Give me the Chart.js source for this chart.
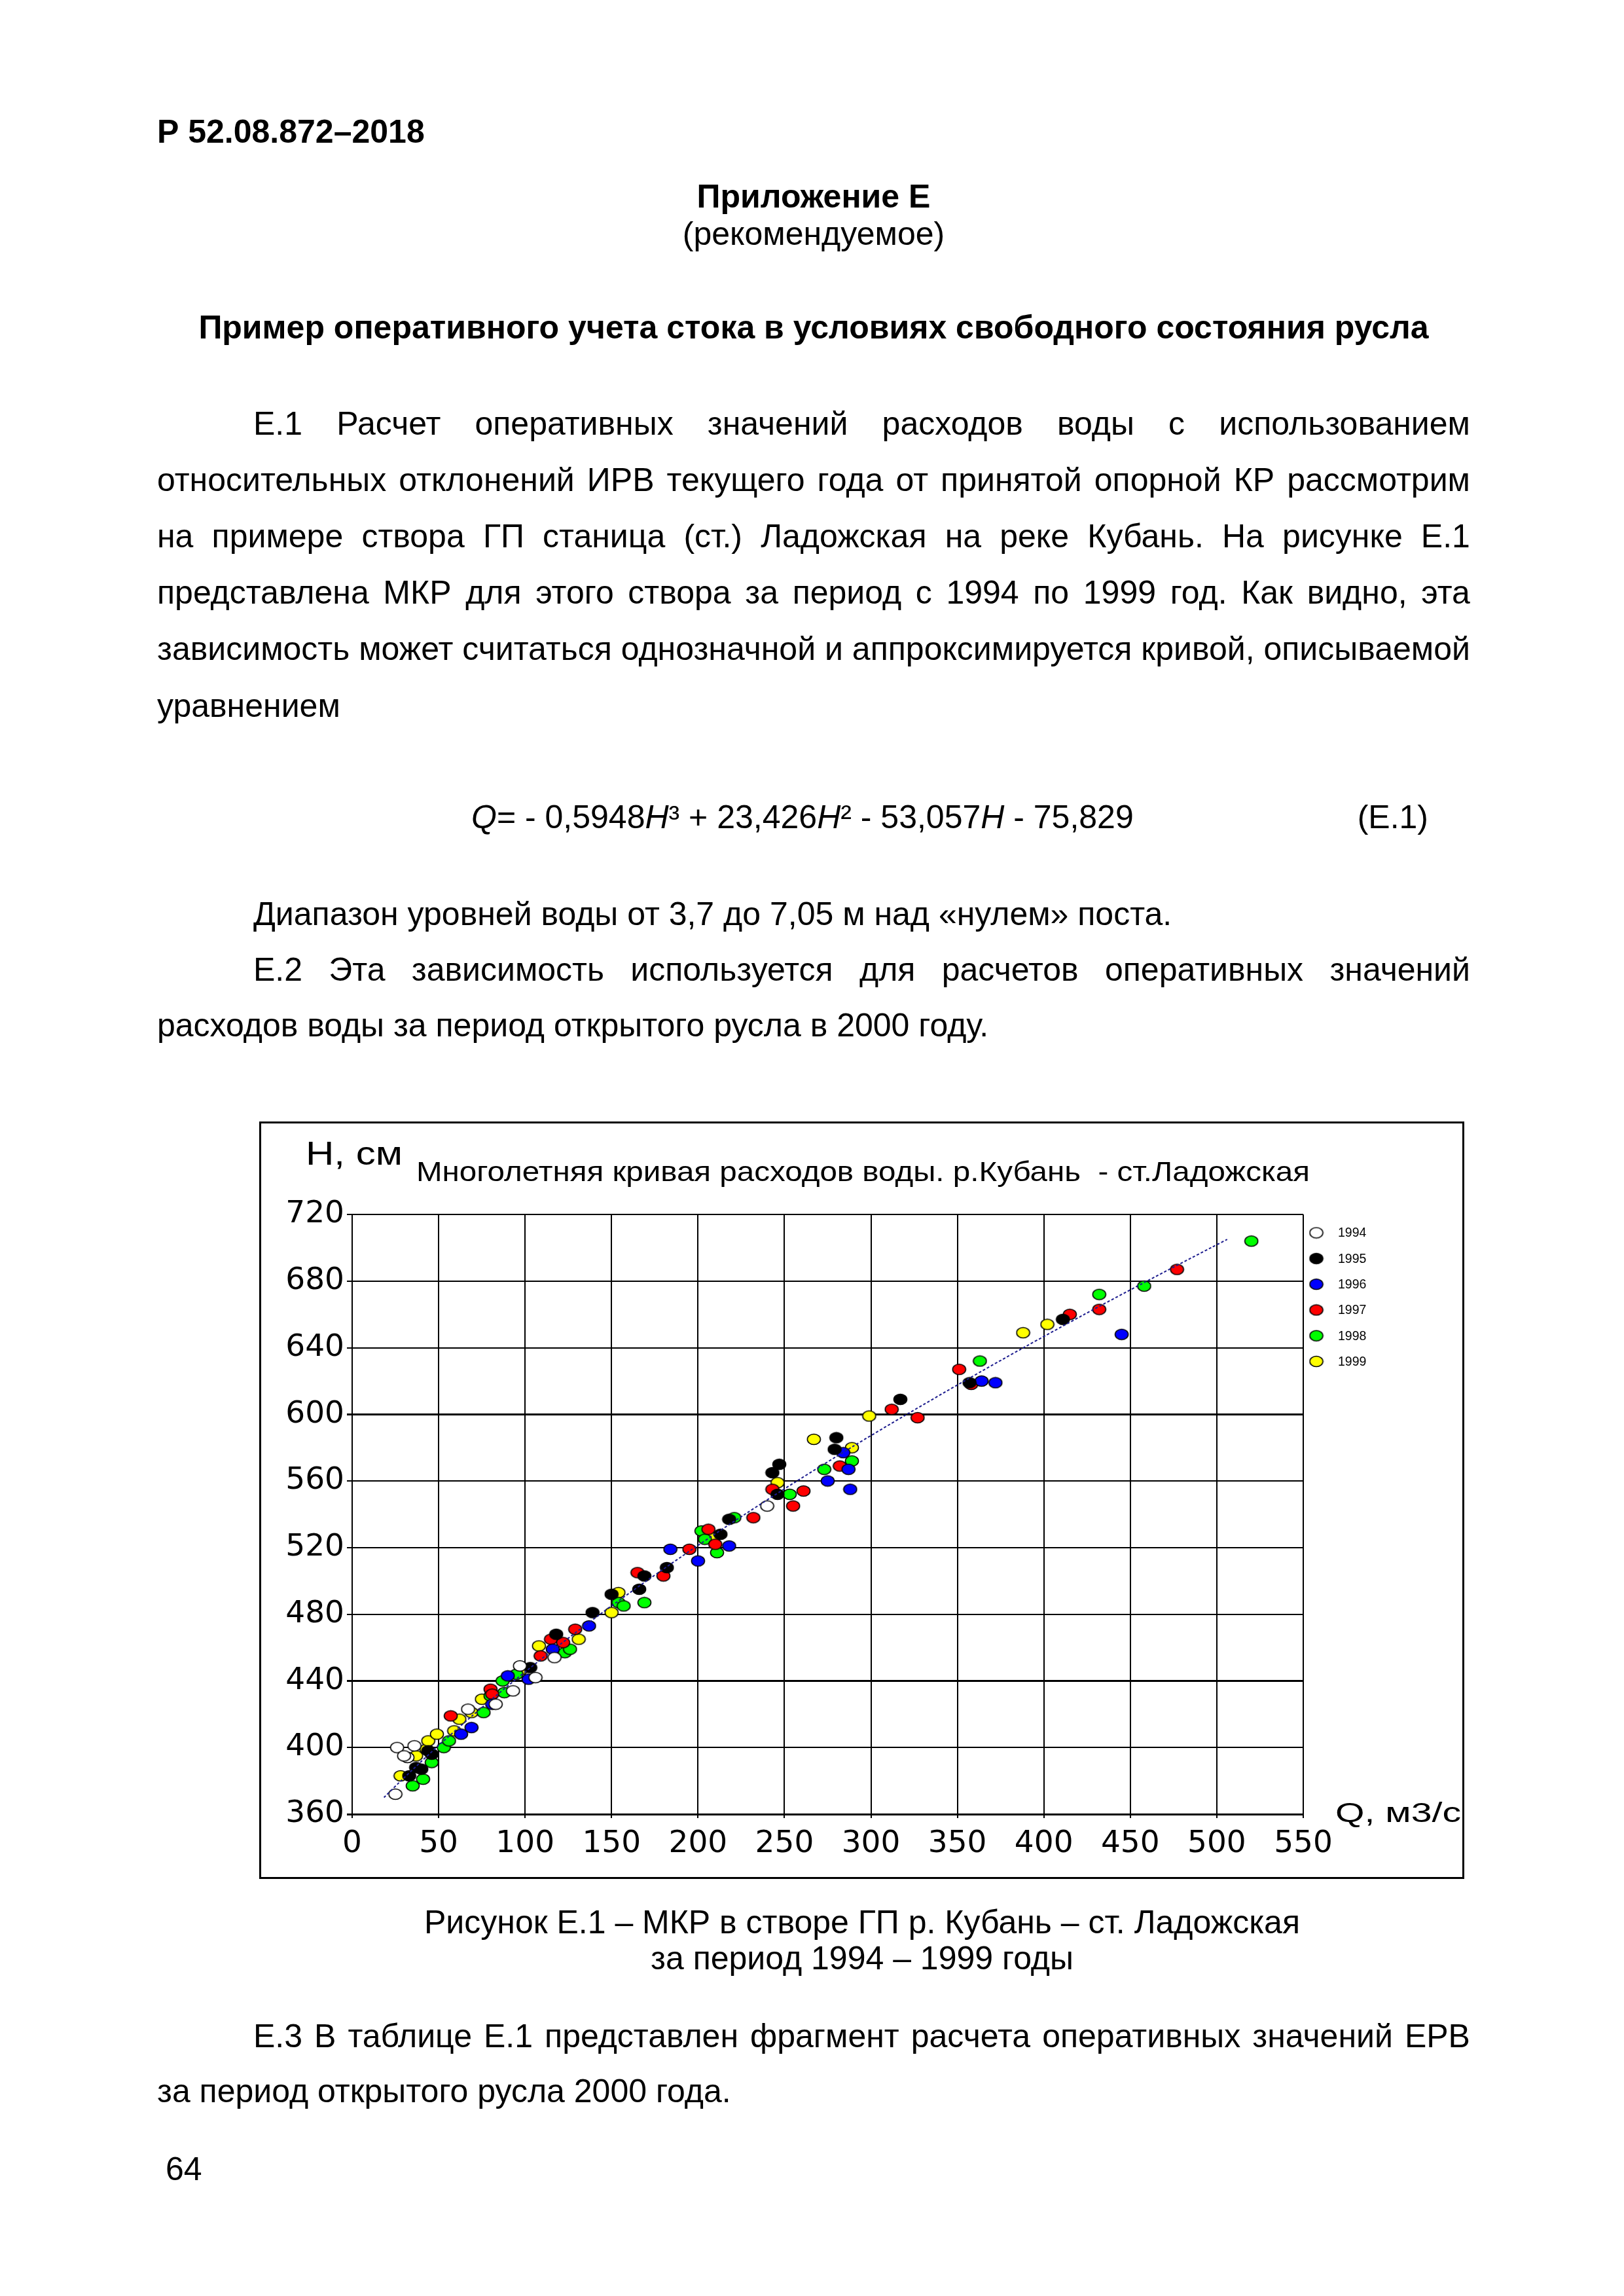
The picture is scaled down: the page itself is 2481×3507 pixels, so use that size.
<!DOCTYPE html>
<html lang="ru">
<head>
<meta charset="utf-8">
<title>Р 52.08.872–2018, Приложение Е</title>
<script src="https://cdn.jsdelivr.net/npm/chart.js@4.4.1/dist/chart.umd.min.js"></script>
<style>
html, body { margin: 0; padding: 0; background: #fff; }
#page { position: relative; width: 2481px; height: 3507px; overflow: hidden;
        font-family: "Liberation Sans", Arial, sans-serif; color: #000; }
.ln { position: absolute; font-size: 50px; line-height: 50px; white-space: nowrap; }
.b { font-weight: bold; }
.c { text-align: center; }
.just { display: flex; justify-content: space-between; }
#chartBox { position: absolute; left: 396px; top: 1713px; width: 1841px; height: 1157px; }
#chartBox canvas { position: absolute; left: 0; top: 0; }
#frame { position: absolute; left: 0; top: 0; width: 1841px; height: 1157px;
         border: 3px solid #000; box-sizing: border-box; pointer-events: none; }
</style>
</head>
<body>
<div id="page">
  <div class="ln b" style="left:240px; top:176px;">Р 52.08.872–2018</div>
  <div class="ln b c" style="left:240px; width:2006px; top:275px;">Приложение Е</div>
  <div class="ln c" style="left:240px; width:2006px; top:332px;">(рекомендуемое)</div>
  <div class="ln b c" style="left:240px; width:2006px; top:475px;">Пример оперативного учета стока в условиях свободного состояния русла</div>

  <div class="ln just" style="left:387px; width:1859px; top:622px;">Е.1 Расчет оперативных значений расходов воды с использованием</div>
  <div class="ln just" style="left:240px; width:2006px; top:708px;">относительных отклонений ИРВ текущего года от принятой опорной КР рассмотрим</div>
  <div class="ln just" style="left:240px; width:2006px; top:794px;">на примере створа ГП станица (ст.) Ладожская на реке Кубань. На рисунке Е.1</div>
  <div class="ln just" style="left:240px; width:2006px; top:880px;">представлена МКР для этого створа за период с 1994 по 1999 год. Как видно, эта</div>
  <div class="ln just" style="left:240px; width:2006px; top:966px;">зависимость может считаться однозначной и аппроксимируется кривой, описываемой</div>
  <div class="ln" style="left:240px; top:1053px;">уравнением</div>

  <div class="ln" style="left:720px; top:1223px;"><i>Q</i>= - 0,5948<i>H</i>³ + 23,426<i>H</i>² - 53,057<i>H</i> - 75,829</div>
  <div class="ln" style="left:1982px; width:200px; top:1223px; text-align:right;">(Е.1)</div>

  <div class="ln" style="left:387px; top:1371px;">Диапазон уровней воды от 3,7 до 7,05 м над «нулем» поста.</div>
  <div class="ln just" style="left:387px; width:1859px; top:1456px;">Е.2 Эта зависимость используется для расчетов оперативных значений</div>
  <div class="ln" style="left:240px; top:1541px;">расходов воды за период открытого русла в 2000 году.</div>

  <div id="chartBox">
    <canvas id="mkr" width="1841" height="1157"></canvas>
    <div id="frame"></div>
  </div>

  <div class="ln c" style="left:317px; width:2000px; top:2911px;">Рисунок Е.1 – МКР в створе ГП р. Кубань – ст. Ладожская</div>
  <div class="ln c" style="left:317px; width:2000px; top:2966px;">за период 1994 – 1999 годы</div>

  <div class="ln just" style="left:387px; width:1859px; top:3085px;">Е.3 В таблице Е.1 представлен фрагмент расчета оперативных значений ЕРВ</div>
  <div class="ln" style="left:240px; top:3169px;">за период открытого русла 2000 года.</div>
  <div class="ln" style="left:253px; top:3288px;">64</div>
</div>

<script>
// ----------------------------- Justified text lines -----------------------------
document.querySelectorAll(".just").forEach((el) => {
    const words = el.textContent.trim().split(/\s+/);
    el.innerHTML = "";
    words.forEach((w) => {
        const s = document.createElement("span");
        s.textContent = w;
        el.appendChild(s);
    });
});

// ----------------------------- Chart data -----------------------------
const chartTitle = "Многолетняя кривая расходов воды. р.Кубань  - ст.Ладожская";
const yAxisTitle = "Н, см";
const xAxisTitle = "Q, м3/с";

const years = ["1994", "1995", "1996", "1997", "1998", "1999"];
const yearColors = ["#ffffff", "#000000", "#0000ff", "#ff0000", "#00ff00", "#ffff00"];

const qTicks = [0, 50, 100, 150, 200, 250, 300, 350, 400, 450, 500, 550];
const hTicks = [360, 400, 440, 480, 520, 560, 600, 640, 680, 720];

// Q, m3/s and H, cm for each year
const q1994 = [25, 26, 36, 32, 30, 67, 83, 93, 97, 106, 117, 240];
const h1994 = [372, 400, 401, 394, 395, 423, 426, 434, 449, 442, 454, 545];

const q1995 = [33, 37, 40, 44, 46, 103, 118, 139, 150, 166, 169, 182, 213, 218, 243, 246, 247, 279, 280, 317, 357, 411];
const h1995 = [383, 388, 387, 398, 396, 448, 468, 481, 492, 495, 503, 508, 528, 537, 565, 552, 570, 579, 586, 609, 619, 657];

const q1996 = [63, 69, 81, 90, 102, 116, 137, 184, 200, 218, 275, 284, 287, 288, 364, 372, 445];
const h1996 = [408, 412, 426, 443, 441, 459, 473, 519, 512, 521, 560, 577, 567, 555, 620, 619, 648];

const q1997 = [57, 80, 81, 109, 115, 122, 129, 165, 180, 195, 206, 210, 232, 243, 255, 261, 282, 312, 327, 351, 358, 415, 432, 477];
const h1997 = [419, 435, 432, 455, 465, 463, 471, 505, 503, 519, 531, 522, 538, 555, 545, 554, 569, 603, 598, 627, 618, 660, 663, 687];

const q1998 = [35, 41, 46, 53, 56, 76, 80, 87, 88, 95, 123, 126, 154, 157, 169, 202, 204, 211, 221, 253, 273, 289, 363, 432, 458, 520];
const h1998 = [377, 381, 391, 400, 404, 421, 431, 440, 433, 444, 457, 459, 487, 485, 487, 530, 525, 517, 538, 552, 567, 572, 632, 672, 677, 704];

const q1999 = [28, 37, 43, 44, 49, 59, 62, 69, 75, 98, 108, 131, 150, 154, 209, 246, 267, 289, 299, 388, 402];
const h1999 = [383, 395, 399, 404, 408, 410, 417, 421, 429, 447, 461, 465, 481, 493, 526, 559, 585, 580, 599, 649, 654];

// Approximating curve (E.1), points as drawn
const curveQ = [18.4, 28.2, 48.7, 70.5, 93.6, 117.9, 143.4, 170.2, 198.1, 227.1, 257.2, 288.4, 320.7, 354.0, 388.2, 423.4, 459.6, 496.6, 506.0];
const curveH = [370, 380, 400, 420, 440, 460, 480, 500, 520, 540, 560, 580, 600, 620, 640, 660, 680, 700, 705];

const yearQ = [q1994, q1995, q1996, q1997, q1998, q1999];
const yearH = [h1994, h1995, h1996, h1997, h1998, h1999];

// ----------------------------- Marker images (flat ellipses) -----------------------------
function makeMarker(fill) {
    const m = document.createElement("canvas");
    m.width = 23;
    m.height = 19;
    const c = m.getContext("2d");
    c.beginPath();
    c.ellipse(11.5, 9.5, 10, 8, 0, 0, Math.PI * 2);
    c.fillStyle = fill;
    c.fill();
    c.lineWidth = 1.6;
    c.strokeStyle = "#000";
    c.stroke();
    return m;
}
const markers = yearColors.map(makeMarker);

const toPoints = (qs, hs) => qs.map((q, i) => ({ x: q, y: hs[i] }));

const datasets = [
    {
        type: "line",
        label: "curve",
        data: toPoints(curveQ, curveH),
        borderColor: "#1c1c8e",
        borderWidth: 2,
        borderDash: [4, 3],
        pointRadius: 0,
        tension: 0.3,
        fill: false,
        order: 0,
    },
];
years.forEach((y, i) => {
    datasets.push({
        type: "scatter",
        label: y,
        data: toPoints(yearQ[i], yearH[i]),
        pointStyle: markers[i],
        pointRadius: 10,
        order: 1,
    });
});

// Draw the title, axis names and legend in the places they have on the page
function fitText(c, text, x, y, width, font) {
    c.font = font;
    const w = c.measureText(text).width;
    c.save();
    c.translate(x, y);
    c.scale(width / w, 1);
    c.fillText(text, 0, 0);
    c.restore();
}

const pageLabels = {
    id: "pageLabels",
    afterDraw(chart) {
        const c = chart.ctx;
        c.save();
        c.fillStyle = "#000";
        c.textAlign = "left";
        c.textBaseline = "alphabetic";
        fitText(c, chartTitle, 240, 91, 1365, '43px "Liberation Sans"');
        fitText(c, yAxisTitle, 71, 66, 148, '50px "Liberation Sans"');
        fitText(c, xAxisTitle, 1644, 1070, 192, '42px "Liberation Sans"');

        // legend
        c.font = '19.5px "Liberation Sans"';
        c.textBaseline = "middle";
        years.forEach((y, i) => {
            const cy = 170 + i * 39.3;
            c.drawImage(markers[i], 1615 - 11.5, cy - 9.5);
            c.fillText(y, 1648, cy + 1);
        });
        c.restore();
    },
};

const thickH = [360, 440, 600];

new Chart(document.getElementById("mkr"), {
    type: "scatter",
    data: { datasets: datasets },
    options: {
        responsive: false,
        animation: false,
        devicePixelRatio: 1,
        layout: { padding: { top: 142, right: 246, left: 0, bottom: 0 } },
        plugins: {
            legend: { display: false },
            title: { display: false },
            tooltip: { enabled: false },
        },
        scales: {
            x: {
                type: "linear",
                min: 0,
                max: 550,
                afterBuildTicks: (scale) => {
                    scale.ticks = qTicks.map((v) => ({ value: v }));
                },
                afterFit: (scale) => {
                    scale.height = 99;
                },
                ticks: {
                    autoSkip: false,
                    maxRotation: 0,
                    minRotation: 0,
                    padding: 12,
                    color: "#000",
                    font: { family: "DejaVu Sans", size: 47 },
                },
                grid: { color: "#000", lineWidth: 2, tickLength: 6 },
                border: { color: "#000", width: 2 },
            },
            y: {
                type: "linear",
                min: 360,
                max: 720,
                afterBuildTicks: (scale) => {
                    scale.ticks = hTicks.map((v) => ({ value: v }));
                },
                afterFit: (scale) => {
                    scale.width = 142;
                },
                ticks: {
                    autoSkip: false,
                    padding: 4,
                    color: "#000",
                    font: { family: "DejaVu Sans", size: 47 },
                },
                grid: {
                    color: "#000",
                    lineWidth: (ctx) => (ctx.tick && thickH.includes(ctx.tick.value) ? 3 : 2),
                    tickLength: 8,
                },
                border: { color: "#000", width: 2 },
            },
        },
    },
    plugins: [pageLabels],
});
</script>
</body>
</html>
